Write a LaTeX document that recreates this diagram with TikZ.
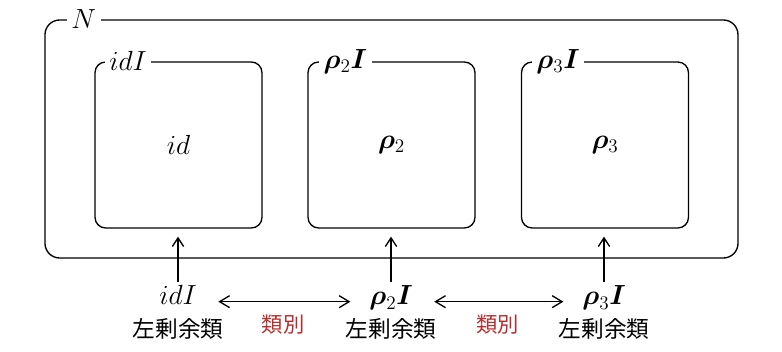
\documentclass[tikz,border=0pt]{standalone}
\usepackage{bm}
\usepackage{fontspec}
\newfontfamily\jpfont{Noto Sans CJK JP}
\usetikzlibrary{arrows.meta,positioning}
\definecolor{classred}{RGB}{185,45,45}
\tikzset{
  groupbox/.style={draw,line width=1pt,rounded corners=11pt,
    minimum width=519.75pt,minimum height=178.5pt},
  cosetbox/.style={draw,line width=1pt,rounded corners=8pt,
    minimum width=125.25pt,minimum height=124.5pt},
  boxlabel/.style={fill=white,inner sep=3.5pt,anchor=west},
  cosetname/.style={anchor=base,text height=15pt,text depth=4pt,inner sep=2pt},
  cosetword/.style={font=\jpfont\fontsize{17}{20}\selectfont,inner sep=1pt},
  classword/.style={font=\jpfont\fontsize{16}{19}\selectfont,text=classred},
  upto/.style={-{Straight Barb[length=6.5pt,width=8.5pt]},line width=1pt,shorten >=6pt},
  bothway/.style={{Straight Barb[length=7.5pt,width=9pt]}-{Straight Barb[length=7.5pt,width=9pt]},
    line width=1pt,shorten <=14pt,shorten >=12pt},
}
\begin{document}
\begin{tikzpicture}[x=.75pt,y=-.75pt,font=\fontsize{20.5}{24}\selectfont]
  \useasboundingbox (0,0) rectangle (782,352);
  % the normal subgroup N and its three cosets
  \node[groupbox] (N) at (391.5,139) {};
  \node[boxlabel] at ([xshift=16.5pt]N.north west) {$N$};
  \node[cosetbox] (box1) at (178.5,145) {$id$};
  \node[cosetbox] (box2) at (391.5,145) {$\bm{\rho}_2$};
  \node[cosetbox] (box3) at (605,145) {$\bm{\rho}_3$};
  \node[boxlabel] at ([xshift=7.5pt]box1.north west) {$idI$};
  \node[boxlabel] at ([xshift=8.5pt]box2.north west) {$\bm{\rho}_2\bm{I}$};
  \node[boxlabel] at ([xshift=8pt]box3.north west) {$\bm{\rho}_3\bm{I}$};
  % left cosets below
  \node[cosetname] (c1) at (178,305) {$idI$};
  \node[cosetname] (c2) at (391,305) {$\bm{\rho}_2\bm{I}$};
  \node[cosetname] (c3) at (604,305) {$\bm{\rho}_3\bm{I}$};
  \node[cosetword,below=2.5pt of c1] (w1) {左剰余類};
  \node[cosetword,below=2.5pt of c2] (w2) {左剰余類};
  \node[cosetword,below=2.5pt of c3] (w3) {左剰余類};
  \draw[upto] (c1) -- (c1 |- box1.south);
  \draw[upto] (c2) -- (c2 |- box2.south);
  \draw[upto] (c3) -- (c3 |- box3.south);
  \draw[bothway] ([yshift=-3pt]c1.east) -- ([yshift=-3pt]c2.west)
    node[classword,midway,below=6pt] {類別};
  \draw[bothway] ([yshift=-3pt]c2.east) -- ([yshift=-3pt]c3.west)
    node[classword,midway,below=6pt] {類別};
\end{tikzpicture}
\end{document}
